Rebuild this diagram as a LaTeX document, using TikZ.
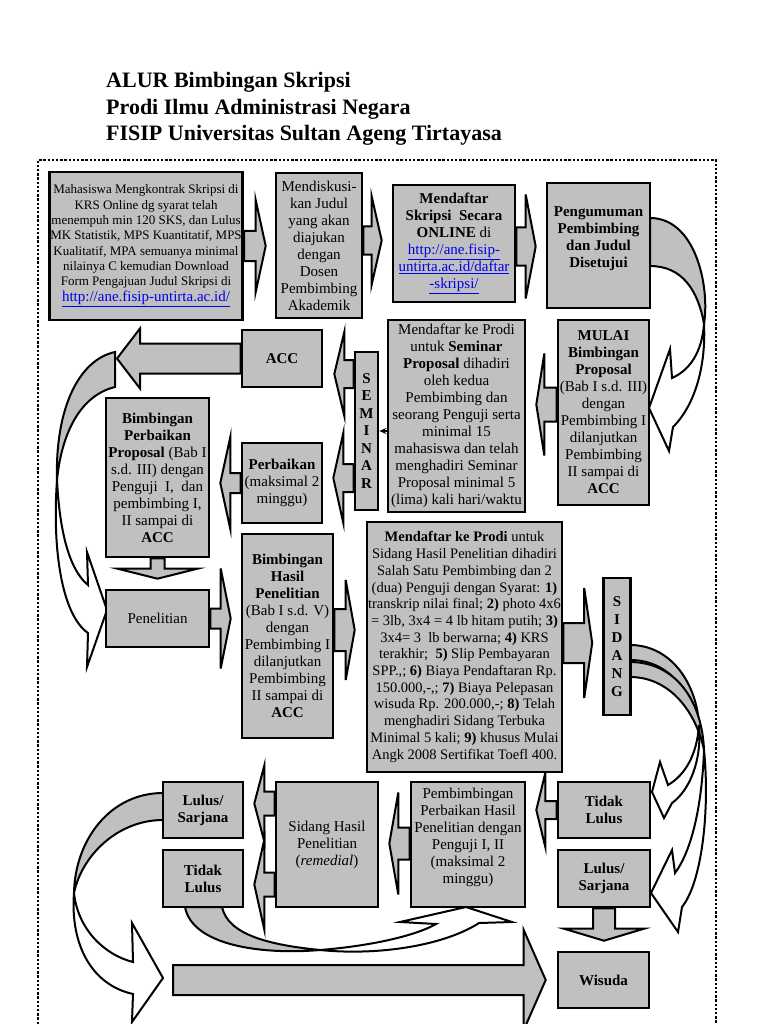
\documentclass[tikz,border=0pt]{standalone}
\usepackage{fontspec}
\setmainfont{Liberation Serif}
\usetikzlibrary{calc, arrows.meta, backgrounds}
\definecolor{abu}{RGB}{192,192,192}
\definecolor{biru}{RGB}{0,0,238}
\newcommand{\tautan}[1]{\textcolor{biru}{\underline{#1}}}
% block arrow, horizontal: tail, tip, half shaft, half head, head length
\newcommand{\panahH}[5]{%
	\draw[blok] let \p1=#1, \p2=#2 in
		(\x1,{\y1+#3}) -- ({\x2-(#5)},{\y1+#3}) -- ({\x2-(#5)},{\y1+#4}) -- (\x2,\y1)
		-- ({\x2-(#5)},{\y1-#4}) -- ({\x2-(#5)},{\y1-#3}) -- (\x1,{\y1-#3}) -- cycle;}
% block arrow, vertical (downwards)
\newcommand{\panahV}[5]{%
	\draw[blok] let \p1=#1, \p2=#2 in
		({\x1+#3},\y1) -- ({\x1+#3},{\y2+(#5)}) -- ({\x1+#4},{\y2+(#5)}) -- (\x1,\y2)
		-- ({\x1-#4},{\y2+(#5)}) -- ({\x1-#3},{\y2+(#5)}) -- ({\x1-#3},\y1) -- cycle;}
\tikzset{
	kotak/.style 2 args={
		draw=black, line width=2.6pt, fill=abu,
		align=center, inner sep=1pt,
		minimum width=#1, minimum height=#2,
		font=\fontsize{15}{17}\selectfont
	},
	blok/.style={draw=black, line width=2pt, fill=abu, line join=miter},
	blokputih/.style={blok, fill=white},
	bingkai/.style={line width=2.4pt, dash pattern=on 2.4pt off 1.8pt},
	judul/.style={align=left, inner sep=0pt, font=\bfseries\fontsize{22}{26.5}\selectfont},
}
\begin{document}
\begin{tikzpicture}[x=1pt, y=-1pt]
		\useasboundingbox (0,0) rectangle (768,1024);
		% title and frame
		\node[judul, anchor=west] (judul) at (106,109) {ALUR Bimbingan Skripsi\\Prodi Ilmu Administrasi Negara\\FISIP Universitas Sultan Ageng Tirtayasa};
		\draw[bingkai] (38,1024) -- (38,160) -- (716,160) -- (716,1024);

		% the boxes
		\node[kotak={192pt}{148pt}, font=\fontsize{13}{15.3}\selectfont] (b1) at (146,246)
			{Mahasiswa Mengkontrak Skripsi di\\KRS Online dg syarat telah\\menempuh min 120 SKS, dan Lulus\\MK Statistik, MPS Kuantitatif, MPS\\Kualitatif, MPA semuanya minimal\\nilainya C kemudian Download\\Form Pengajuan Judul Skripsi di\\[1pt]{\fontsize{15}{17}\selectfont\tautan{http://ane.fisip-untirta.ac.id/}}};
		\node[kotak={86pt}{145pt}] (b2) at (319,245.5)
			{Mendiskusi-\\kan Judul\\yang akan\\diajukan\\dengan\\Dosen\\Pembimbing\\Akademik};
		\node[kotak={122pt}{117pt}] (b3) at (454,243.5)
			{\textbf{Mendaftar}\\\textbf{Skripsi~ Secara}\\\textbf{ONLINE} di\\\tautan{http://ane.fisip-}\\\tautan{untirta.ac.id/daftar}\\\tautan{-skripsi/}};
		\node[kotak={103pt}{125pt}, font=\bfseries\fontsize{15}{17}\selectfont] (b4) at (598.5,245.5)
			{Pengumuman\\Pembimbing\\dan Judul\\Disetujui\\~};
		\node[kotak={91pt}{185pt}] (b5) at (603.5,412.5)
			{\textbf{MULAI}\\\textbf{Bimbingan}\\\textbf{Proposal}\\(Bab I s.d. III)\\dengan\\Pembimbing I\\dilanjutkan\\Pembimbing\\II sampai di\\\textbf{ACC}};
		\node[kotak={137pt}{192pt}] (b6) at (456.5,416)
			{Mendaftar ke Prodi\\untuk \textbf{Seminar}\\\textbf{Proposal} dihadiri\\oleh kedua\\Pembimbing dan\\seorang Penguji serta\\minimal 15\\mahasiswa dan telah\\menghadiri Seminar\\Proposal minimal 5\\(lima) kali hari/waktu};
		\node[kotak={23pt}{158pt}, font=\bfseries\fontsize{15}{17.5}\selectfont] (sem) at (366.5,431)
			{S\\E\\M\\I\\N\\A\\R};
		\node[kotak={80pt}{57pt}, font=\bfseries\fontsize{15}{17}\selectfont] (acc) at (282,358.5) {ACC};
		\node[kotak={80pt}{80pt}] (perb) at (282,483)
			{\textbf{Perbaikan}\\(maksimal 2\\minggu)};
		\node[kotak={103pt}{159pt}] (bpp) at (157.5,477.5)
			{\textbf{Bimbingan}\\\textbf{Perbaikan}\\\textbf{Proposal} (Bab I\\s.d. III) dengan\\Penguji~ I,~ dan\\pembimbing I,\\II sampai di\\\textbf{ACC}};
		\node[kotak={103pt}{57pt}] (pen) at (157.5,618.5) {Penelitian};
		\node[kotak={91pt}{204pt}] (bhp) at (287.5,636)
			{\textbf{Bimbingan}\\\textbf{Hasil}\\\textbf{Penelitian}\\(Bab I s.d. V)\\dengan\\Pembimbing I\\dilanjutkan\\Pembimbing\\II sampai di\\\textbf{ACC}};
		\node[kotak={195pt}{250pt}, font=\fontsize{14.5}{16.7}\selectfont] (daftar) at (464.5,647)
			{\textbf{Mendaftar ke Prodi} untuk\\Sidang Hasil Penelitian dihadiri\\Salah Satu Pembimbing dan 2\\(dua) Penguji dengan Syarat: \textbf{1)}\\transkrip nilai final; \textbf{2)} photo 4x6\\= 3lb, 3x4 = 4 lb hitam putih; \textbf{3)}\\3x4= 3~ lb berwarna; \textbf{4)} KRS\\terakhir;~ \textbf{5)} Slip Pembayaran\\SPP.,; \textbf{6)} Biaya Pendaftaran Rp.\\150.000,-,; \textbf{7)} Biaya Pelepasan\\wisuda Rp. 200.000,-; \textbf{8)} Telah\\menghadiri Sidang Terbuka\\Minimal 5 kali; \textbf{9)} khusus Mulai\\Angk 2008 Sertifikat Toefl 400.};
		\node[kotak={27pt}{137pt}, font=\bfseries\fontsize{15}{18}\selectfont] (sid) at (617,646.5)
			{S\\I\\D\\A\\N\\G};
		\node[kotak={92pt}{56pt}, font=\bfseries\fontsize{15}{17}\selectfont] (tlR) at (604,810) {Tidak\\Lulus};
		\node[kotak={92pt}{57pt}, font=\bfseries\fontsize{15}{17}\selectfont] (lsR) at (604,878.5) {Lulus/\\Sarjana};
		\node[kotak={91pt}{56pt}, font=\bfseries\fontsize{15}{17}\selectfont] (wis) at (603.5,980) {Wisuda};
		\node[kotak={114pt}{125pt}] (pperb) at (468,844.5)
			{Pembimbingan\\Perbaikan Hasil\\Penelitian dengan\\Penguji I, II\\(maksimal 2\\minggu)\\~};
		\node[kotak={102pt}{125pt}] (rem) at (327,844.5)
			{Sidang Hasil\\Penelitian\\(\textit{remedial})};
		\node[kotak={80pt}{56pt}, font=\bfseries\fontsize{15}{17}\selectfont] (lsL) at (203,810) {Lulus/\\Sarjana};
		\node[kotak={80pt}{57pt}, font=\bfseries\fontsize{15}{17}\selectfont] (tlL) at (203,878.5) {Tidak\\Lulus};
		\coordinate (lengkung) at (117,359);
		\coordinate (ekor) at (173,980);

		% the arrows
		\begin{scope}[on background layer]
		% curved ones
		\draw[blok] (650,218) .. controls (695,218) and (710,285) .. (704,324) .. controls (698,290) and (682,266) .. (650,266) -- cycle;
		\draw[blokputih] (704,324) .. controls (702,352) and (690,370) .. (672,378) -- (670,349) -- (649,408) -- (669,451) -- (673,427) .. controls (696,404) and (706,364) .. (704,324) -- cycle;
		\draw[blok] (115,352) .. controls (78,360) and (55,410) .. (57,480) .. controls (62,430) and (82,395) .. (115,387) -- cycle;
		\draw[blokputih] (57,480) .. controls (60,540) and (72,572) .. (88,585) -- (87,552) -- (107,610) -- (87,667) -- (88,633) .. controls (62,615) and (52,550) .. (57,480) -- cycle;
		\draw[blok] (630,645) .. controls (672,645) and (697,685) .. (699,725) .. controls (690,690) and (668,660) .. (630,660) -- cycle;
		\draw[blok] (630,662) .. controls (675,662) and (702,700) .. (704,750) .. controls (696,712) and (670,677) .. (630,677) -- cycle;
		\draw[blokputih] (699,725) .. controls (697,755) and (685,775) .. (668,785) -- (660,762) -- (652,792) -- (664,818) -- (672,803) .. controls (690,790) and (702,760) .. (699,725) -- cycle;
		\draw[blokputih] (704,750) .. controls (702,805) and (692,850) .. (675,873) -- (672,850) -- (651,893) -- (678,932) -- (682,907) .. controls (702,882) and (710,810) .. (704,750) -- cycle;
		\draw[blok] (163,793) .. controls (110,793) and (75,840) .. (74,893) .. controls (82,855) and (118,820) .. (163,820) -- cycle;
		\draw[blokputih] (74,893) .. controls (78,930) and (105,955) .. (133,962) -- (132,923) -- (163,978) -- (132,1022) -- (133,994) .. controls (92,985) and (70,945) .. (74,893) -- cycle;
		\draw[blok] (185,907) .. controls (192,945) and (260,955) .. (320,950) .. controls (270,945) and (228,935) .. (222,907) -- cycle;
		\draw[blokputih] (320,950) .. controls (370,946) and (415,936) .. (436,924) -- (400,922) -- (466,907) -- (512,922) -- (479,923) .. controls (445,945) and (380,956) .. (320,950) -- cycle;
		% straight ones
		\panahH{(b1.east)}{($(b2.west)+(-9,0)$)}{15}{46}{10}
		\panahH{($(b2.east)+(0,-5)$)}{($(b3.west)+(-10,0)$)}{14}{44}{10}
		\panahH{($(b3.east)+(0,3)$)}{($(b4.west)+(-10,0)$)}{19}{52}{10}
		\panahH{($(b5.west)+(0,-8)$)}{($(b6.east)+(10,0)$)}{17}{51}{-8}
		\panahH{($(sem.west)+(0,-57)$)}{($(acc.east)+(11,0)$)}{14}{42}{-10}
		\panahH{($(sem.west)+(0,47)$)}{($(perb.east)+(10,0)$)}{14}{45}{-10}
		\panahH{(acc.west)}{(lengkung)}{15}{30}{-23}
		\panahH{(perb.west)}{($(bpp.east)+(10,0)$)}{10}{46}{-10}
		\panahV{(bpp.south)}{($(pen.north)+(0,-10)$)}{7}{40}{10}
		\panahH{(pen.east)}{($(bhp.west)+(-10,0)$)}{10}{50}{10}
		\panahH{($(bhp.east)+(0,-6)$)}{($(daftar.west)+(-11,0)$)}{21}{50}{9}
		\panahH{($(daftar.east)+(0,-4)$)}{($(sid.west)+(-10,0)$)}{20}{55}{8}
		\panahH{(tlR.west)}{($(pperb.east)+(10,0)$)}{9}{37}{-9}
		\panahH{($(pperb.west)+(0,-1)$)}{($(rem.east)+(10,0)$)}{16}{51}{-9}
		\panahH{($(rem.west)+(0,-41)$)}{($(lsL.east)+(10,0)$)}{12}{38}{-10}
		\panahH{($(rem.west)+(0,40)$)}{($(tlL.east)+(10,0)$)}{12}{45}{-10}
		\panahV{(lsR.south)}{($(wis.north)+(0,-10)$)}{11}{40}{12}
		\panahH{(ekor)}{($(wis.west)+(-11,0)$)}{15}{50}{22}
		\end{scope}
		\draw[-{Stealth[length=7pt,width=6pt]}, line width=1.2pt] (b6.west |- sem.east) -- (sem.east);
\end{tikzpicture}
\end{document}
